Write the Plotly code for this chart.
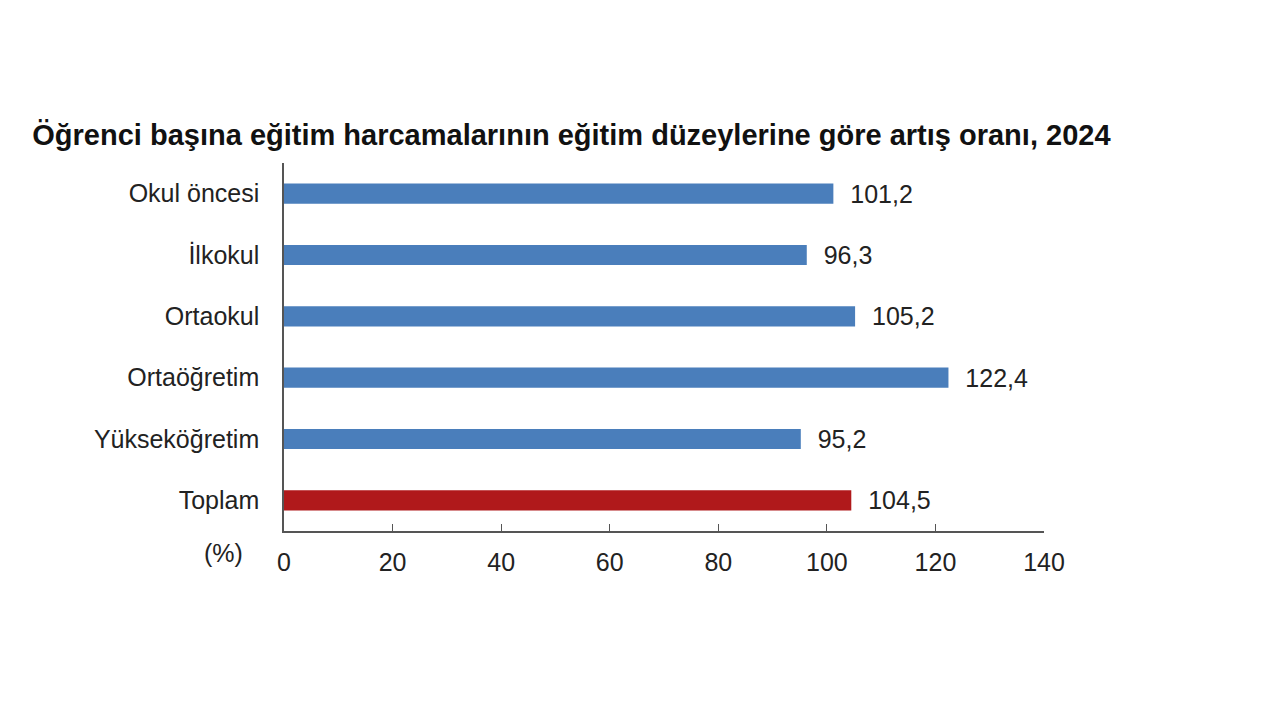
import plotly.graph_objects as go

categories = ["Okul öncesi", "İlkokul", "Ortaokul", "Ortaöğretim", "Yükseköğretim", "Toplam"]
values = [101.2, 96.3, 105.2, 122.4, 95.2, 104.5]
labels = ["101,2", "96,3", "105,2", "122,4", "95,2", "104,5"]
tick_vals = [0, 20, 40, 60, 80, 100, 120, 140]

colors = ["#4a7ebb"] * 5 + ["#b0191b"]

fig = go.Figure()
fig.add_trace(go.Bar(
    x=values, y=categories, orientation="h",
    marker=dict(color=colors, line=dict(width=0)),
    width=0.33,
    text=["  " + t for t in labels], textposition="outside",
    constraintext="none",
    textfont=dict(family="Liberation Sans, Arial", size=25, color="#222"),
    cliponaxis=False,
))

fig.update_layout(
    width=1280, height=720,
    paper_bgcolor="white", plot_bgcolor="white",
    margin=dict(l=276, r=244, t=155, b=197),
    showlegend=False,
    font=dict(family="Liberation Sans, Arial", size=25, color="#222"),
    title=dict(text="<b>Öğrenci başına eğitim harcamalarının eğitim düzeylerine göre artış oranı, 2024</b>",
               x=0.019, xanchor="left", xref="container", y=0.824, yanchor="middle",
               font=dict(size=29, color="#111")),
    xaxis=dict(range=[0, 140], tickvals=tick_vals, showgrid=False, zeroline=False,
               showline=True, linecolor="#555", linewidth=1.5,
               ticks="inside", ticklen=7, tickcolor="#555",
               tickfont=dict(size=25, color="#222"), ticklabelstandoff=8),
    yaxis=dict(categoryorder="array", categoryarray=categories[::-1],
               showgrid=False, zeroline=False, showline=True, linecolor="#555", linewidth=1.5,
               ticks="", tickfont=dict(size=25, color="#222"), ticklabelstandoff=18),
)
fig.add_annotation(text="(%)", x=-0.08, xref="paper", y=-0.06, yref="paper",
                   xanchor="center", yanchor="middle",
                   showarrow=False, font=dict(size=25, color="#222"))
fig.write_html("out.html")
